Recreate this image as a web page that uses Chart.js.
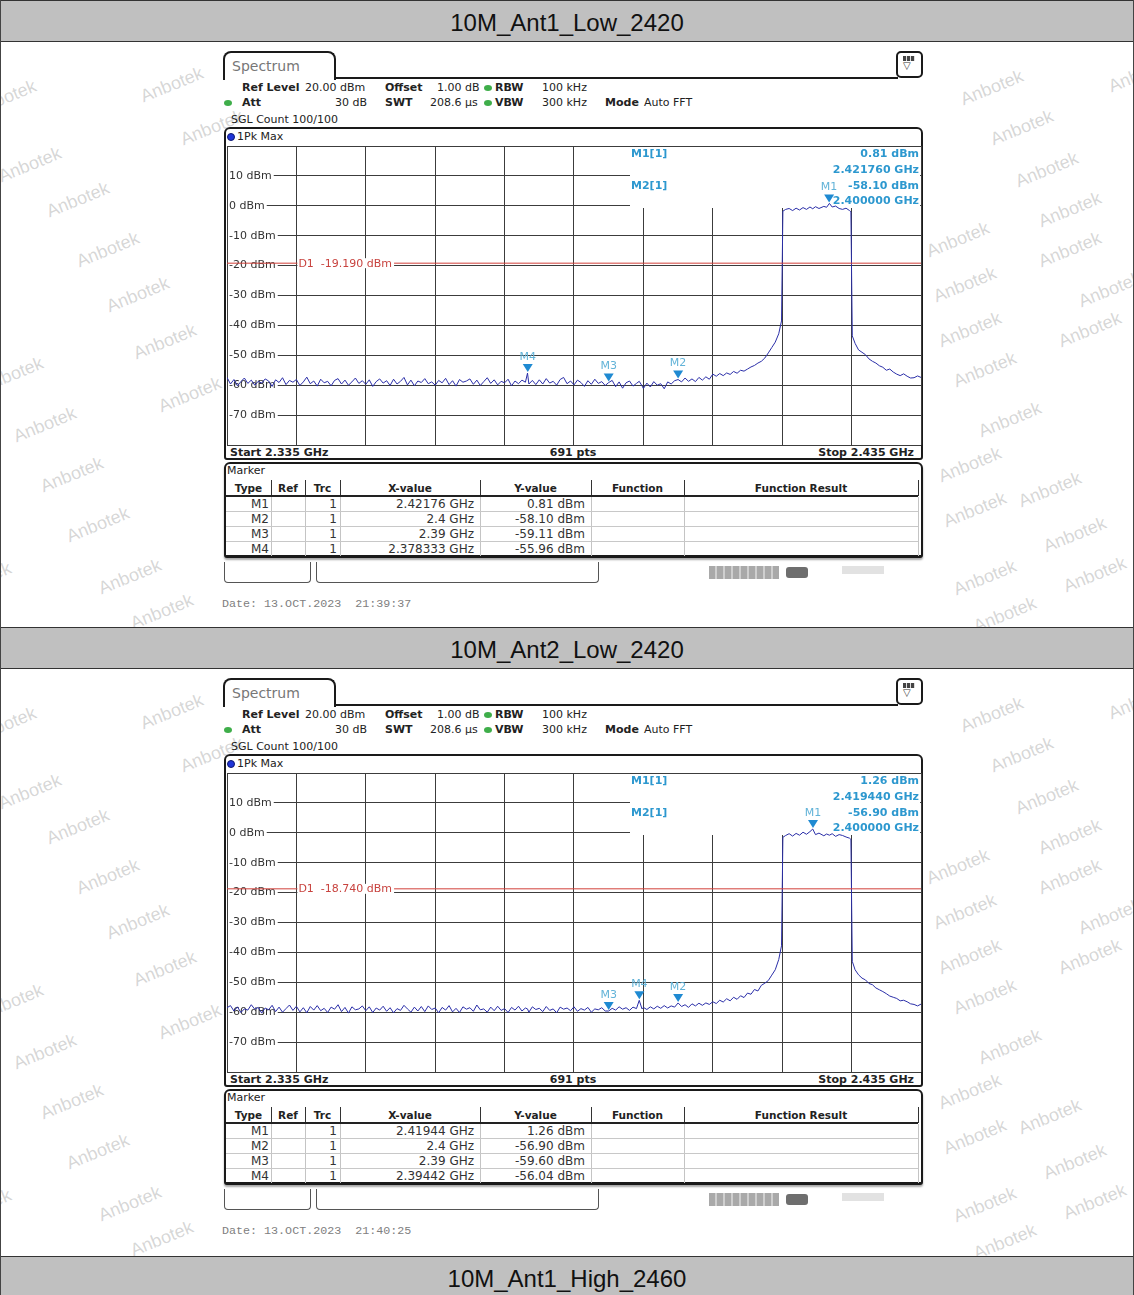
<!DOCTYPE html>
<html>
<head>
<meta charset="utf-8">
<title>Band edge plots</title>
<script src="https://cdn.jsdelivr.net/npm/chart.js@4.4.1/dist/chart.umd.min.js"></script>
<style>
  body { margin: 0; background: #fff; }
  #page { position: relative; width: 1134px; height: 1295px; overflow: hidden; font-family: "DejaVu Sans", sans-serif; color: #222; }
  .abs { position: absolute; white-space: nowrap; }
  .bar { position: absolute; left: 0; width: 1134px; height: 42px; box-sizing: border-box; background: #c0c0c0;
         border: 1px solid #333; text-align: center; font: 24px/44px "Liberation Sans", Arial, sans-serif; color: #111; }
  .wm { position: absolute; font: 18px "Liberation Sans", sans-serif; color: rgba(140,140,140,0.36);
        transform: translate(-50%, -50%) rotate(-22deg); white-space: nowrap; }
  .s11 { font-size: 11px; line-height: 14px; }
  .s12 { font-size: 12px; line-height: 14px; }
  .b { font-weight: bold; }
  .dot { position: absolute; width: 8px; height: 6px; border-radius: 50%; background: #3fae4a; }
  .frame { position: absolute; box-sizing: border-box; border: 2px solid #1a1a1a; background: #fff; }
</style>
</head>
<body>
<div id="page"></div>
<script>
// span and grid of the analyser screen
const startGHz = 2.335;
const stopGHz = 2.435;
const gridFreqs = [2.335, 2.345, 2.355, 2.365, 2.375, 2.385, 2.395, 2.405, 2.415, 2.425, 2.435];
const levelTicks = [20, 10, 0, -10, -20, -30, -40, -50, -60, -70, -80];

// trace sample frequencies (GHz)
const freqGHz = [
  2.335, 2.3355, 2.336, 2.3365, 2.337, 2.3375, 2.338, 2.3385, 2.339, 2.3395,
  2.340, 2.3405, 2.341, 2.3415, 2.342, 2.3425, 2.343, 2.3435, 2.344, 2.3445,
  2.345, 2.3455, 2.346, 2.3465, 2.347, 2.3475, 2.348, 2.3485, 2.349, 2.3495,
  2.350, 2.3505, 2.351, 2.3515, 2.352, 2.3525, 2.353, 2.3535, 2.354, 2.3545,
  2.355, 2.3555, 2.356, 2.3565, 2.357, 2.3575, 2.358, 2.3585, 2.359, 2.3595,
  2.360, 2.3605, 2.361, 2.3615, 2.362, 2.3625, 2.363, 2.3635, 2.364, 2.3645,
  2.365, 2.3655, 2.366, 2.3665, 2.367, 2.3675, 2.368, 2.3685, 2.369, 2.3695,
  2.370, 2.3705, 2.371, 2.3715, 2.372, 2.3725, 2.373, 2.3735, 2.374, 2.3745,
  2.375, 2.3755, 2.376, 2.3765, 2.377, 2.3775, 2.378, 2.3783, 2.3785, 2.379, 2.3795,
  2.380, 2.3805, 2.381, 2.3815, 2.382, 2.3825, 2.383, 2.3835, 2.384, 2.3845,
  2.385, 2.3855, 2.386, 2.3865, 2.387, 2.3875, 2.388, 2.3885, 2.389, 2.3895,
  2.390, 2.3905, 2.391, 2.3915, 2.392, 2.3925, 2.393, 2.3935, 2.394, 2.3944, 2.3948,
  2.395, 2.3955, 2.396, 2.3965, 2.397, 2.3975, 2.398, 2.3985, 2.399, 2.3995,
  2.400, 2.4005, 2.401, 2.4015, 2.402, 2.4025, 2.403, 2.4035, 2.404, 2.4045,
  2.405, 2.4055, 2.406, 2.4065, 2.407, 2.4075, 2.408, 2.4085, 2.409, 2.4095,
  2.410, 2.4105, 2.411, 2.4115, 2.412, 2.4125, 2.413, 2.4135, 2.414, 2.4145, 2.4149,
  2.4151, 2.4155, 2.416, 2.4165, 2.417, 2.4175, 2.418, 2.4185, 2.419, 2.4194, 2.4198,
  2.4203, 2.421, 2.4214, 2.4218, 2.4222, 2.4227, 2.4232, 2.4237, 2.4242, 2.4247,
  2.4249, 2.4251, 2.4255, 2.426, 2.4265, 2.427, 2.4275, 2.428, 2.4285, 2.429, 2.4295,
  2.430, 2.4305, 2.431, 2.4315, 2.432, 2.4325, 2.433, 2.4335, 2.434, 2.4345, 2.435
];

// 1Pk Max trace levels (dBm)
const ant1Levels = [
  -57.4, -59.6, -58.1, -60.2, -58.8, -57.6, -59.4, -58.3, -60.0, -58.7,
  -59.3, -57.9, -58.6, -60.4, -58.2, -59.1, -57.5, -59.8, -58.4, -59.0,
  -58.1, -60.1, -58.9, -57.3, -59.5, -58.6, -60.3, -58.0, -59.2, -58.7,
  -60.2, -58.4, -57.8, -59.6, -58.3, -60.0, -58.9, -57.6, -59.4, -58.5,
  -59.7, -58.2, -60.4, -58.8, -57.9, -59.3, -58.5, -60.1, -58.0, -59.6,
  -58.7, -57.4, -59.9, -58.3, -60.2, -58.6, -59.1, -57.8, -59.5, -58.9,
  -60.0, -58.4, -59.2, -57.7, -59.8, -58.5, -60.3, -58.1, -59.0, -58.6,
  -57.9, -59.7, -58.3, -60.1, -58.8, -57.5, -59.4, -58.2, -59.9, -58.7,
  -59.2, -58.0, -60.2, -58.6, -59.5, -58.3, -59.0, -55.96, -59.6, -58.4, -59.8,
  -58.2, -59.6, -57.8, -59.3, -58.7, -60.0, -58.1, -57.4, -59.5, -58.6,
  -59.9, -58.3, -59.1, -60.4, -58.5, -59.7, -58.0, -59.4, -58.8, -60.1,
  -59.11, -58.4, -60.5, -58.9, -61.0, -59.2, -58.6, -60.3, -59.4, -58.7, -60.2,
  -61.1, -59.3, -60.6, -58.8, -60.0, -59.5, -61.2, -58.9, -59.6, -58.5,
  -58.10, -58.9, -57.6, -58.7, -57.9, -58.8, -57.4, -58.3, -57.2, -58.0,
  -56.3, -57.0, -56.1, -56.8, -55.9, -56.4, -55.4, -56.0, -55.0, -55.3,
  -54.6, -53.9, -53.4, -52.6, -52.0, -50.9, -49.2, -47.4, -45.6, -42.8, -38.5,
  -1.8, -1.2, -0.9, -1.6, -0.8, -1.4, -0.6, -1.2, -0.4, -1.0, -0.3,
  -0.9, -0.2, -0.5, 0.81, -0.4, -0.1, -0.9, -1.2, -0.8, -1.6,
  -2.0, -43.5, -46.0, -48.2, -49.0, -49.8, -51.2, -52.0, -52.6, -53.5, -54.0,
  -55.0, -54.6, -55.6, -56.3, -56.8, -56.2, -57.0, -57.6, -57.5, -56.9, -57.4
];
const ant2Levels = [
  -58.5, -57.8, -59.6, -58.2, -60.1, -58.9, -59.3, -57.5, -59.0, -58.4,
  -60.3, -58.6, -59.2, -57.7, -59.8, -58.3, -60.0, -58.8, -57.6, -59.4,
  -58.0, -59.9, -58.5, -60.2, -58.1, -59.3, -57.8, -59.5, -58.7, -60.1,
  -58.3, -59.0, -57.5, -59.8, -58.4, -60.3, -58.2, -59.2, -58.9, -57.9,
  -59.5, -58.2, -60.1, -58.6, -59.3, -58.0, -59.7, -58.5, -60.2, -58.8,
  -59.4, -57.7, -58.9, -60.0, -58.3, -59.6, -58.1, -59.8, -57.9, -59.1,
  -58.6, -60.2, -58.4, -59.3, -57.8, -59.9, -58.7, -60.1, -58.2, -59.0,
  -58.5, -59.7, -57.6, -59.2, -58.9, -60.0, -58.3, -59.5, -58.0, -59.4,
  -58.8, -60.1, -58.4, -59.3, -58.0, -59.6, -58.6, -58.9, -60.0, -58.2, -59.1,
  -58.7, -59.8, -58.1, -59.4, -58.9, -60.2, -58.3, -59.0, -58.6, -59.5,
  -58.2, -59.7, -58.8, -59.3, -58.4, -60.0, -58.9, -59.2, -58.5, -59.6,
  -59.60, -58.7, -59.3, -58.2, -59.0, -58.5, -59.4, -58.3, -58.8, -56.04, -58.9,
  -58.4, -59.1, -58.2, -58.9, -58.0, -58.7, -57.8, -58.6, -57.9, -58.3,
  -56.90, -58.1, -57.5, -58.4, -57.2, -57.9, -57.0, -57.7, -56.9, -57.4,
  -56.5, -57.1, -56.0, -56.6, -55.5, -56.2, -55.0, -55.7, -54.5, -55.1,
  -53.6, -54.0, -52.4, -52.9, -51.0, -50.3, -49.4, -47.6, -45.8, -42.4, -37.8,
  -1.5, -0.9, -0.3, -1.1, -0.2, -0.8, 0.2, -0.5, 0.4, 1.26, -0.6,
  -0.1, -1.0, -0.4, -0.8, -0.3, -1.2, -0.6, -0.9, -1.4, -1.8,
  -2.2, -43.0, -45.8, -47.5, -48.6, -49.2, -50.4, -50.8, -51.9, -52.5, -53.1,
  -53.8, -54.6, -55.0, -55.4, -56.2, -56.0, -56.5, -57.2, -57.4, -57.9, -57.3
];

// marker tables
const markerNames = ['M1', 'M2', 'M3', 'M4'];
const ant1MarkerX = [2.42176, 2.4, 2.39, 2.378333];
const ant1MarkerXText = ['2.42176 GHz', '2.4 GHz', '2.39 GHz', '2.378333 GHz'];
const ant1MarkerY = [0.81, -58.10, -59.11, -55.96];
const ant2MarkerX = [2.41944, 2.4, 2.39, 2.39442];
const ant2MarkerXText = ['2.41944 GHz', '2.4 GHz', '2.39 GHz', '2.39442 GHz'];
const ant2MarkerY = [1.26, -56.90, -59.60, -56.04];

// display line D1 (dBm)
const ant1D1 = -19.19;
const ant2D1 = -18.74;

const titles = ['10M_Ant1_Low_2420', '10M_Ant2_Low_2420', '10M_Ant1_High_2460'];
const dates = ['Date: 13.OCT.2023  21:39:37', 'Date: 13.OCT.2023  21:40:25'];

// watermark spots, panel coordinates
const wmSpots = [[5, 98], [172, 85], [212, 128], [30, 165], [78, 200], [108, 250], [138, 295], [165, 342],
  [12, 375], [190, 395], [45, 425], [72, 475], [98, 525], [130, 577], [162, 612], [-20, 580],
  [992, 88], [1140, 75], [1022, 128], [1047, 170], [1070, 210], [958, 240], [1070, 250], [1110, 290],
  [965, 285], [970, 330], [1090, 330], [985, 370], [1010, 420], [970, 465], [1050, 490], [975, 510],
  [1075, 535], [985, 578], [1095, 575], [1005, 615]];

Chart.defaults.font.family = '"DejaVu Sans", sans-serif';

const page = document.getElementById('page');

function box(parent, cls, css, text) {
  const d = document.createElement('div');
  d.className = cls || 'abs';
  d.style.cssText = css;
  if (text != null) d.textContent = text;
  parent.appendChild(d);
  return d;
}

function markerPlugin(p) {
  return {
    id: 'markers',
    beforeDatasetsDraw(chart) {
      const { ctx, chartArea: a, scales: { y } } = chart;
      // read-out box covers the grid in the top right corner
      const bx = Math.round(a.left + (a.right - a.left) * 0.58);
      ctx.save();
      ctx.fillStyle = '#fff';
      ctx.fillRect(bx, a.top + 1, a.right - bx - 1, Math.round(y.getPixelForValue(0)) + 1 - a.top);
      ctx.restore();
    },
    afterDatasetsDraw(chart) {
      const { ctx, chartArea: a, scales: { x, y } } = chart;
      ctx.save();
      ctx.textBaseline = 'middle';
      ctx.font = '11px "DejaVu Sans"';

      // D1 label
      const dy = y.getPixelForValue(p.d1);
      const dx = x.getPixelForValue(gridFreqs[1]) + 1;
      const dText = 'D1  ' + p.d1.toFixed(3) + ' dBm';
      const dw = ctx.measureText(dText).width;
      ctx.fillStyle = '#fff';
      ctx.fillRect(dx, dy - 5, dw + 3, 10);
      ctx.fillStyle = '#c8433f';
      ctx.textAlign = 'left';
      ctx.fillText(dText, dx + 1, dy + 0.5);

      // marker triangles
      p.mx.forEach((mx, i) => {
        const px = x.getPixelForValue(mx);
        const py = y.getPixelForValue(p.my[i]);
        ctx.fillStyle = '#1f8ad2';
        ctx.beginPath();
        ctx.moveTo(px - 5, py - 9);
        ctx.lineTo(px + 5, py - 9);
        ctx.lineTo(px, py - 1);
        ctx.closePath();
        ctx.fill();
        ctx.fillStyle = '#62b3d8';
        ctx.textAlign = 'center';
        ctx.fillText(markerNames[i], px, py - 16);
      });

      // marker read-out
      const lx = Math.round(a.left + (a.right - a.left) * 0.58) + 1;
      const rx = a.right - 2;
      ctx.font = 'bold 11px "DejaVu Sans"';
      ctx.fillStyle = '#2d98cf';
      ctx.textAlign = 'left';
      ctx.fillText('M1[1]', lx, a.top + 8);
      ctx.fillText('M2[1]', lx, a.top + 40);
      ctx.textAlign = 'right';
      ctx.fillText(p.my[0].toFixed(2) + ' dBm', rx, a.top + 8);
      ctx.fillText(p.mx[0].toFixed(6) + ' GHz', rx, a.top + 24);
      ctx.fillText(p.my[1].toFixed(2) + ' dBm', rx, a.top + 40);
      ctx.fillText(p.mx[1].toFixed(6) + ' GHz', rx, a.top + 55);
      ctx.restore();
    }
  };
}

function buildPanel(p) {
  const pan = box(page, 'abs', `left:0;top:${p.top}px;width:1134px;height:627px;`);
  wmSpots.forEach(([wx, wy]) => box(pan, 'wm', `left:${wx}px;top:${wy}px;`, 'Anbotek'));
  box(pan, 'bar', 'top:0;', p.title);

  // tab + top rule
  box(pan, 'abs', 'left:223px;top:51px;width:113px;height:29px;box-sizing:border-box;border:2px solid #1a1a1a;border-bottom:none;border-radius:8px 8px 0 0;background:#fff;');
  box(pan, 'abs', 'left:232px;top:58px;font-size:14px;line-height:16px;color:#777;', 'Spectrum');
  box(pan, 'abs', 'left:334px;top:77px;width:564px;height:2px;background:#1a1a1a;');
  box(pan, 'abs', 'left:896px;top:51px;width:27px;height:27px;box-sizing:border-box;border:2px solid #1a1a1a;border-radius:5px;background:#fff;');
  box(pan, 'abs', 'left:903px;top:56px;width:12px;height:5px;background:repeating-linear-gradient(90deg,#444 0 3px,#ddd 3px 4px);');
  box(pan, 'abs', 'left:903px;top:60px;font-size:10px;line-height:12px;color:#333;', '\u25BD');

  // settings header
  const h = [
    [242, 81, 'Ref Level', true], [305, 81, '20.00 dBm'], [385, 81, 'Offset', true], [437, 81, '1.00 dB'],
    [495, 81, 'RBW', true], [542, 81, '100 kHz'],
    [242, 96, 'Att', true], [335, 96, '30 dB'], [385, 96, 'SWT', true], [430, 96, '208.6 \u00b5s'],
    [495, 96, 'VBW', true], [542, 96, '300 kHz'], [605, 96, 'Mode', true], [644, 96, 'Auto FFT'],
    [231, 113, 'SGL Count 100/100']
  ];
  h.forEach(([hx, hy, t, bold]) => box(pan, 'abs s11' + (bold ? ' b' : ''), `left:${hx}px;top:${hy}px;`, t));
  box(pan, 'dot', 'left:484px;top:85px;');
  box(pan, 'dot', 'left:224px;top:100px;');
  box(pan, 'dot', 'left:484px;top:100px;');

  // plot frame
  box(pan, 'frame', 'left:224px;top:127px;width:699px;height:333px;border-radius:6px 6px 3px 3px;');
  box(pan, 'abs', 'left:227px;top:133px;width:8px;height:8px;border-radius:50%;background:#2035d8;border:1px solid #101a70;box-sizing:border-box;');
  box(pan, 'abs s11', 'left:237px;top:130px;', '1Pk Max');
  box(pan, 'abs s11 b', 'left:230px;top:446px;', 'Start ' + startGHz.toFixed(3) + ' GHz');
  box(pan, 'abs s11 b', 'left:473px;top:446px;width:200px;text-align:center;', '691 pts');
  box(pan, 'abs s11 b', 'left:714px;top:446px;width:200px;text-align:right;', 'Stop ' + stopGHz.toFixed(3) + ' GHz');

  // marker table
  box(pan, 'frame', 'left:224px;top:462px;width:699px;height:96px;border-bottom-width:3px;border-radius:6px 6px 3px 3px;box-shadow:0 2px 2px rgba(0,0,0,0.35);');
  box(pan, 'abs s11', 'left:227px;top:464px;', 'Marker');
  const cols = [[226, 271, 'Type'], [271, 305, 'Ref'], [305, 340, 'Trc'], [340, 480, 'X-value'],
    [480, 591, 'Y-value'], [591, 684, 'Function'], [684, 918, 'Function Result']];
  cols.forEach(([c0, c1, name]) => {
    box(pan, 'abs b', `left:${c0}px;top:481px;width:${c1 - c0}px;text-align:center;font-size:10.5px;line-height:14px;`, name);
    box(pan, 'abs', `left:${c1}px;top:480px;width:1px;height:16px;background:#333;`);
    box(pan, 'abs', `left:${c1}px;top:497px;width:1px;height:59px;background:#c4c4c4;`);
  });
  box(pan, 'abs', 'left:226px;top:495px;width:692px;height:2px;background:#222;');
  markerNames.forEach((m, i) => {
    const ty = 497 + 15 * i;
    if (i < 3) box(pan, 'abs', `left:226px;top:${ty + 14}px;width:692px;height:1px;background:#c8c8c8;`);
    box(pan, 'abs s12', `left:226px;top:${ty}px;width:43px;text-align:right;color:#333;`, m);
    box(pan, 'abs s12', `left:305px;top:${ty}px;width:32px;text-align:right;color:#333;`, '1');
    box(pan, 'abs s12', `left:340px;top:${ty}px;width:134px;text-align:right;color:#333;`, p.mxText[i]);
    box(pan, 'abs s12', `left:480px;top:${ty}px;width:105px;text-align:right;color:#333;`, p.my[i].toFixed(2) + ' dBm');
  });

  // status line
  box(pan, 'abs', 'left:224px;top:562px;width:87px;height:21px;box-sizing:border-box;border:1px solid #555;border-top:none;border-radius:0 0 4px 4px;');
  box(pan, 'abs', 'left:316px;top:562px;width:283px;height:21px;box-sizing:border-box;border:1px solid #555;border-top:none;border-radius:0 0 4px 4px;');
  box(pan, 'abs', 'left:709px;top:566px;width:70px;height:13px;background:repeating-linear-gradient(90deg,#a9a9a9 0 6px,#cfcfcf 6px 8px);');
  box(pan, 'abs', 'left:786px;top:567px;width:22px;height:11px;border-radius:3px;background:#6e6e6e;');
  box(pan, 'abs', 'left:842px;top:566px;width:42px;height:8px;background:#e2e2e2;');
  box(pan, 'abs', 'left:222px;top:597px;font:11.7px/14px "Liberation Mono",monospace;color:#808080;white-space:pre;', p.date);

  // the trace itself
  const cv = document.createElement('canvas');
  cv.width = 695;
  cv.height = 300;
  cv.style.cssText = 'position:absolute;left:227px;top:146px;';
  pan.appendChild(cv);

  new Chart(cv, {
    type: 'line',
    data: {
      datasets: [
        {
          data: [{ x: startGHz, y: p.d1 }, { x: stopGHz, y: p.d1 }],
          borderColor: '#d2403a', borderWidth: 1, pointRadius: 0
        },
        {
          data: freqGHz.map((f, i) => ({ x: f, y: p.levels[i] })),
          borderColor: '#2a2ea8', borderWidth: 1, pointRadius: 0, tension: 0
        }
      ]
    },
    options: {
      responsive: false,
      animation: false,
      events: [],
      layout: { padding: { left: 0, top: 0, right: 1, bottom: 1 } },
      plugins: { legend: { display: false }, tooltip: { enabled: false } },
      scales: {
        x: {
          type: 'linear', min: startGHz, max: stopGHz,
          afterBuildTicks: s => { s.ticks = gridFreqs.map(v => ({ value: v })); },
          grid: { color: '#3c3c3c', drawTicks: false },
          border: { display: false },
          ticks: { display: false }
        },
        y: {
          min: -80, max: 20,
          afterBuildTicks: s => { s.ticks = levelTicks.map(v => ({ value: v })); },
          afterFit: s => { s.width = 0; s.paddingTop = 0; s.paddingBottom = 0; },
          grid: { color: '#3c3c3c', drawTicks: false },
          border: { display: false },
          ticks: {
            mirror: true, padding: 2, color: '#333',
            font: { size: 11 },
            showLabelBackdrop: true,
            backdropColor: c => (c.tick && (c.tick.value === 20 || c.tick.value === -80)) ? 'rgba(0,0,0,0)' : '#fff',
            backdropPadding: { top: 0, bottom: 0, left: 1, right: 2 },
            callback: v => (v === 20 || v === -80) ? '' : v + ' dBm'
          }
        }
      }
    },
    plugins: [markerPlugin(p)]
  });
}

buildPanel({ top: 0, title: titles[0], levels: ant1Levels, mx: ant1MarkerX, mxText: ant1MarkerXText, my: ant1MarkerY, d1: ant1D1, date: dates[0] });
buildPanel({ top: 627, title: titles[1], levels: ant2Levels, mx: ant2MarkerX, mxText: ant2MarkerXText, my: ant2MarkerY, d1: ant2D1, date: dates[1] });
box(page, 'bar', 'top:1256px;', titles[2]);

// outer table rules
box(page, 'abs', 'left:0;top:0;width:1px;height:1295px;background:#444;');
box(page, 'abs', 'left:1133px;top:0;width:1px;height:1295px;background:#444;');
</script>
</body>
</html>
